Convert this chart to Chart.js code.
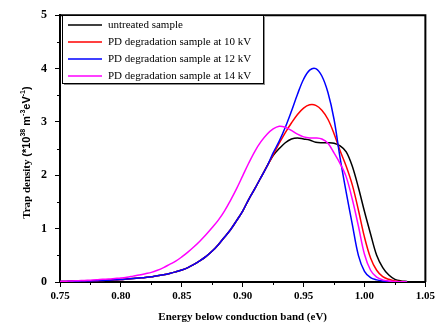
<!DOCTYPE html>
<html>
<head>
<meta charset="utf-8">
<script src="https://cdn.jsdelivr.net/npm/chart.js@4.4.1/dist/chart.umd.min.js"></script>
<style>
  html, body { margin: 0; padding: 0; background: #fff; }
  canvas { display: block; }
</style>
</head>
<body>
<canvas id="trap-chart" width="438" height="324"></canvas>
<script>
// energy below conduction band (eV)
const energy = [0.750, 0.755, 0.760, 0.765, 0.770, 0.775, 0.780, 0.785, 0.790, 0.795,
  0.800, 0.805, 0.810, 0.815, 0.820, 0.825, 0.830, 0.835, 0.840, 0.845,
  0.850, 0.855, 0.860, 0.865, 0.870, 0.875, 0.880, 0.885, 0.890, 0.895,
  0.900, 0.905, 0.910, 0.915, 0.920, 0.925, 0.930, 0.935, 0.940, 0.945,
  0.950, 0.955, 0.960, 0.965, 0.970, 0.975, 0.980, 0.985, 0.990, 0.995,
  1.000, 1.005, 1.010, 1.015, 1.020, 1.025, 1.030, 1.035]

// trap density (*10^38 m^-3 eV^-1)
const untreated = [0.01, 0.01, 0.015, 0.015, 0.02, 0.02, 0.025, 0.03, 0.035, 0.04,
  0.045, 0.055, 0.065, 0.075, 0.085, 0.10, 0.115, 0.135, 0.16, 0.19,
  0.225, 0.27, 0.33, 0.40, 0.48, 0.58, 0.70, 0.84, 0.98, 1.15,
  1.33, 1.55, 1.75, 1.96, 2.17, 2.37, 2.50, 2.61, 2.68, 2.70,
  2.68, 2.66, 2.62, 2.61, 2.61, 2.60, 2.55, 2.44, 2.17, 1.77,
  1.32, 0.90, 0.50, 0.27, 0.13, 0.05, 0.02, 0.01]
const pd10kV = [0.01, 0.01, 0.015, 0.015, 0.02, 0.02, 0.025, 0.03, 0.035, 0.04,
  0.045, 0.055, 0.065, 0.075, 0.085, 0.10, 0.115, 0.135, 0.16, 0.19,
  0.225, 0.27, 0.33, 0.40, 0.48, 0.58, 0.70, 0.84, 0.98, 1.15,
  1.33, 1.55, 1.75, 1.96, 2.17, 2.38, 2.60, 2.80, 2.98, 3.14,
  3.26, 3.32, 3.31, 3.22, 3.05, 2.78, 2.46, 2.17, 1.82, 1.35,
  0.84, 0.45, 0.22, 0.10, 0.05, 0.02, 0.01, 0.005]
const pd12kV = [0.01, 0.01, 0.015, 0.015, 0.02, 0.02, 0.025, 0.03, 0.035, 0.04,
  0.045, 0.055, 0.065, 0.075, 0.085, 0.10, 0.115, 0.135, 0.16, 0.19,
  0.225, 0.27, 0.33, 0.40, 0.48, 0.58, 0.70, 0.84, 0.98, 1.15,
  1.33, 1.55, 1.75, 1.96, 2.17, 2.42, 2.64, 2.90, 3.20, 3.52,
  3.80, 3.97, 4.00, 3.86, 3.55, 3.05, 2.32, 1.68, 1.08, 0.50,
  0.20, 0.08, 0.04, 0.02, 0.01, 0.005, 0, 0]
const pd14kV = [0.01, 0.015, 0.02, 0.025, 0.03, 0.035, 0.04, 0.05, 0.055, 0.065,
  0.075, 0.09, 0.11, 0.13, 0.155, 0.18, 0.22, 0.27, 0.33, 0.39,
  0.47, 0.56, 0.66, 0.77, 0.89, 1.02, 1.16, 1.33, 1.53, 1.75,
  1.99, 2.23, 2.45, 2.63, 2.77, 2.87, 2.92, 2.90, 2.84, 2.77,
  2.72, 2.70, 2.70, 2.68, 2.60, 2.42, 2.22, 1.97, 1.55, 1.05,
  0.52, 0.22, 0.09, 0.04, 0.02, 0.01, 0.005, 0]

const seriesLabels = ['untreated sample', 'PD degradation sample at 10 kV',
  'PD degradation sample at 12 kV', 'PD degradation sample at 14 kV']
const seriesColors = ['#000000', '#ff0000', '#0000ff', '#ff00ff']

const xTicks = [0.75, 0.80, 0.85, 0.90, 0.95, 1.00, 1.05]
const yTicks = [0, 1, 2, 3, 4, 5]

const serif = '"Liberation Serif", "Times New Roman", serif'
const sans = '"Liberation Sans", Arial, sans-serif'

function toPoints(values) {
  return energy.map((e, i) => ({ x: e, y: values[i] }))
}

// frame, minor ticks, y title with superscripts, legend box
const decorations = {
  id: 'decorations',
  afterDraw(chart) {
    const ctx = chart.ctx
    const area = chart.chartArea
    const xs = chart.scales.x
    const ys = chart.scales.y
    ctx.save()

    // top and right sides of the frame
    ctx.strokeStyle = '#000'
    ctx.lineWidth = 2
    ctx.beginPath()
    ctx.moveTo(area.left, area.top)
    ctx.lineTo(area.right, area.top)
    ctx.lineTo(area.right, area.bottom)
    ctx.stroke()

    // minor ticks
    ctx.lineWidth = 1
    ctx.beginPath()
    for (let i = 0; i < xTicks.length - 1; i++) {
      const px = Math.round(xs.getPixelForValue((xTicks[i] + xTicks[i + 1]) / 2)) + 0.5
      ctx.moveTo(px, area.bottom)
      ctx.lineTo(px, area.bottom + 3)
    }
    for (let i = 0; i < yTicks.length - 1; i++) {
      const py = Math.round(ys.getPixelForValue((yTicks[i] + yTicks[i + 1]) / 2)) + 0.5
      ctx.moveTo(area.left, py)
      ctx.lineTo(area.left - 3, py)
    }
    ctx.stroke()

    // y axis title
    const parts = [
      { t: 'Trap density ', f: 'bold 11px ' + serif, up: 0 },
      { t: '(*10', f: 'bold 11px ' + sans, up: 0 },
      { t: '38', f: 'bold 7px ' + sans, up: 5 },
      { t: ' m', f: 'bold 11px ' + sans, up: 0 },
      { t: '-3', f: 'bold 7px ' + sans, up: 5 },
      { t: 'eV', f: 'bold 11px ' + sans, up: 0 },
      { t: '-1', f: 'bold 7px ' + sans, up: 5 },
      { t: ')', f: 'bold 11px ' + sans, up: 0 }
    ]
    let total = 0
    parts.forEach(p => { ctx.font = p.f; p.w = ctx.measureText(p.t).width; total += p.w })
    ctx.translate(30, (area.top + area.bottom) / 2 + 4)
    ctx.rotate(-Math.PI / 2)
    ctx.fillStyle = '#000'
    ctx.textBaseline = 'alphabetic'
    let cx = -total / 2
    parts.forEach(p => {
      ctx.font = p.f
      ctx.fillText(p.t, cx, -p.up)
      cx += p.w
    })
    ctx.setTransform(1, 0, 0, 1, 0, 0)

    // legend box with shadow
    const bx = 62, by = 15, bw = 201, bh = 68
    ctx.fillStyle = '#8c8c8c'
    ctx.fillRect(bx + 2, by + 2, bw, bh)
    ctx.fillStyle = '#fff'
    ctx.fillRect(bx, by, bw, bh)
    ctx.strokeStyle = '#000'
    ctx.lineWidth = 1
    ctx.strokeRect(bx + 0.5, by + 0.5, bw, bh)
    ctx.font = '11px ' + serif
    ctx.textBaseline = 'middle'
    chart.data.datasets.forEach((ds, i) => {
      const ry = by + 10 + i * 17
      ctx.strokeStyle = ds.borderColor
      ctx.lineWidth = 1.5
      ctx.beginPath()
      ctx.moveTo(68, ry)
      ctx.lineTo(102, ry)
      ctx.stroke()
      ctx.fillStyle = '#000'
      ctx.fillText(ds.label, 108, ry)
    })
    ctx.restore()
  }
}

const datasets = [untreated, pd10kV, pd12kV, pd14kV].map((values, i) => ({
  label: seriesLabels[i],
  data: toPoints(values),
  borderColor: seriesColors[i],
  backgroundColor: seriesColors[i],
  borderWidth: 1.5,
  pointRadius: 0,
  fill: false,
  tension: 0.35,
  order: 3 - i
}))

const ctx = document.getElementById('trap-chart').getContext('2d')
const chart = new Chart(ctx, {
  type: 'line',
  data: { datasets: datasets },
  options: {
    responsive: false,
    animation: false,
    devicePixelRatio: 1,
    layout: { padding: { left: 0, right: 11, top: 12, bottom: 0 } },
    plugins: {
      legend: { display: false },
      tooltip: { enabled: false }
    },
    scales: {
      x: {
        type: 'linear',
        min: 0.75,
        max: 1.05,
        afterFit: scale => { scale.height = 42 },
        afterBuildTicks: scale => { scale.ticks = xTicks.map(v => ({ value: v })) },
        ticks: {
          autoSkip: false,
          maxRotation: 0,
          padding: 3,
          color: '#000',
          font: { family: serif, size: 11, weight: 'bold' },
          callback: v => v.toFixed(2)
        },
        grid: { display: true, drawOnChartArea: false, drawTicks: true, tickLength: 5, color: '#000' },
        border: { display: true, color: '#000', width: 2 },
        title: {
          display: true,
          text: 'Energy below conduction band (eV)',
          color: '#000',
          font: { family: serif, size: 11, weight: 'bold' },
          padding: { top: 4, bottom: 0 }
        }
      },
      y: {
        min: 0,
        max: 5,
        afterFit: scale => { scale.width = 60 },
        afterBuildTicks: scale => { scale.ticks = yTicks.map(v => ({ value: v })) },
        ticks: {
          autoSkip: false,
          padding: 8,
          color: '#000',
          font: { family: serif, size: 12, weight: 'bold' }
        },
        grid: { display: true, drawOnChartArea: false, drawTicks: true, tickLength: 5, color: '#000' },
        border: { display: true, color: '#000', width: 2 }
      }
    }
  },
  plugins: [decorations]
})
</script>
</body>
</html>
